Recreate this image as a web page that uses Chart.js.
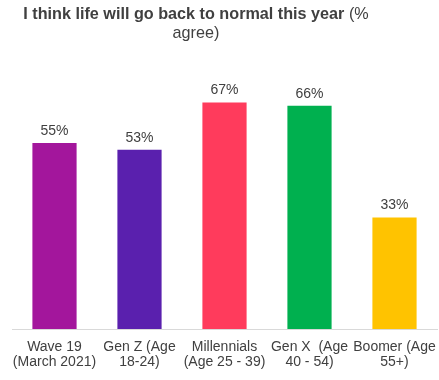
<!DOCTYPE html>
<html><head><meta charset="utf-8">
<script src="https://cdn.jsdelivr.net/npm/chart.js"></script>
<style>html,body{margin:0;padding:0;background:#fff}#wrap{width:439px;height:380px;position:relative}</style>
</head><body><div id="wrap"><canvas id="c" width="439" height="380"></canvas></div>
<script>
const categories = [["Wave 19","(March 2021)"],["Gen Z (Age","18-24)"],["Millennials","(Age 25 - 39)"],["Gen X  (Age","40 - 54)"],["Boomer (Age","55+)"]];
const values = [55, 53, 67, 66, 33];
const barColors = ["#A3169C", "#5A20AE", "#FF3B5C", "#00B04F", "#FFC300"];
const titleBold = "I think life will go back to normal this year";
const titleNormal = " (%";
const titleLine2 = "agree)";
const FONT = '"Liberation Sans", Arial, sans-serif';

const titlePlugin = {
  id: 'mixedTitle',
  afterDraw(chart) {
    const ctx = chart.ctx;
    ctx.save();
    ctx.fillStyle = '#404040';
    ctx.textBaseline = 'middle';
    ctx.font = 'bold 16.2px ' + FONT;
    const wb = ctx.measureText(titleBold).width;
    ctx.font = '16.2px ' + FONT;
    const wn = ctx.measureText(titleNormal).width;
    const cx = 196;
    let x = cx - (wb + wn) / 2;
    ctx.textAlign = 'left';
    ctx.font = 'bold 16.2px ' + FONT;
    ctx.fillText(titleBold, x, 15);
    ctx.font = '16.2px ' + FONT;
    ctx.fillText(titleNormal, x + wb, 15);
    ctx.textAlign = 'center';
    ctx.fillText(titleLine2, cx, 34);
    ctx.restore();
  }
};
const labelPlugin = {
  id: 'valueLabels',
  afterDatasetsDraw(chart) {
    const ctx = chart.ctx;
    const meta = chart.getDatasetMeta(0);
    const xs = chart.scales.x;
    const base = chart.chartArea.bottom;
    ctx.save();
    ctx.fillStyle = '#404040';
    ctx.font = '14px ' + FONT;
    ctx.textAlign = 'center';
    ctx.textBaseline = 'bottom';
    meta.data.forEach((bar, i) => {
      ctx.fillText(values[i] + '%', bar.x, bar.y - 5);
    });
    ctx.textBaseline = 'middle';
    categories.forEach((lines, i) => {
      const px = xs.getPixelForValue(i);
      lines.forEach((ln, j) => ctx.fillText(ln, px, base + 18 + j * 15));
    });
    ctx.restore();
  }
};

new Chart(document.getElementById('c'), {
  type: 'bar',
  data: { labels: categories, datasets: [{ data: values, backgroundColor: barColors, barPercentage: 0.52, categoryPercentage: 1.0 }] },
  options: {
    responsive: false, animation: false,
    layout: { padding: { top: 50, left: 12, right: 2, bottom: 51 } },
    plugins: { legend: { display: false }, tooltip: { enabled: false }, title: { display: false } },
    scales: {
      x: { grid: { display: false, drawTicks: false }, border: { display: true, color: '#d9d9d9' },
           ticks: { display: false } },
      y: { display: false, min: 0, max: 82.5 }
    }
  },
  plugins: [titlePlugin, labelPlugin]
});
</script></body></html>
